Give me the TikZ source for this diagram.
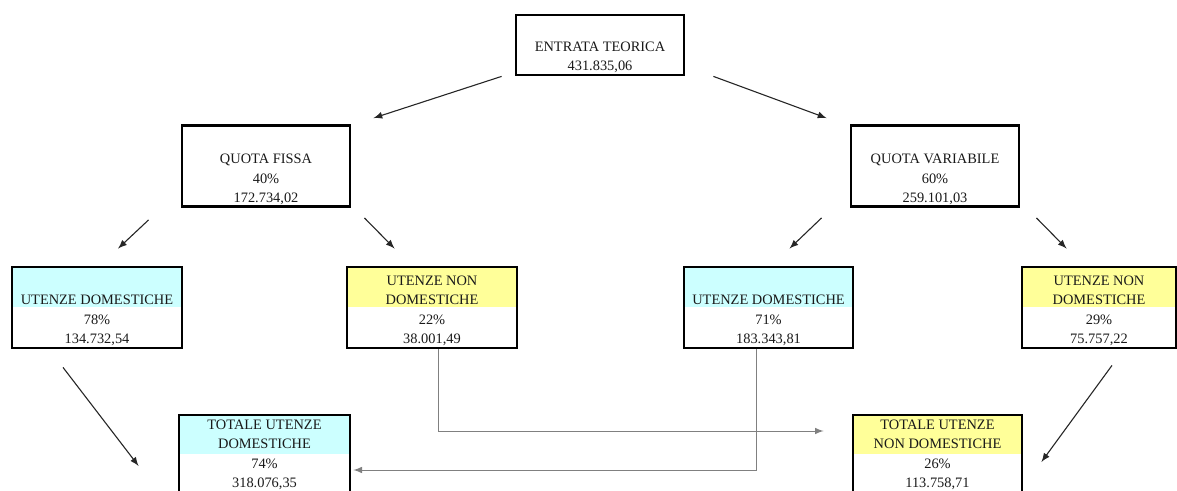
\documentclass[tikz,border=0pt]{standalone}
\usepackage{fontspec}
\setmainfont{Liberation Serif}
\usepackage{tikz}
\usetikzlibrary{positioning}
\definecolor{domcol}{RGB}{204,255,255}
\definecolor{ndomcol}{RGB}{255,255,153}
\tikzset{
    box/.style={
        draw, line width = 1.4pt,
        minimum width = 84pt,
        minimum height = 40.5pt,
        inner sep = 0pt
    },
    txt/.style={
        inner sep = 0pt,
        align = center,
        text = black!90,
        font = \fontsize{7.2}{9.7}\selectfont
    },
    band/.style = {path picture = {\fill[#1] (path picture bounding box.north west) rectangle (path picture bounding box.east);}},
    line/.style = {-latex, line width = 0.55pt, black!85},
    link/.style = {-latex, line width = 0.5pt, black!50}
}
\begin{document}
\begin{tikzpicture}[x = 0.5pt, y = -0.5pt]
    \useasboundingbox (0,0) rectangle (1177,491);

    % boxes
    \node[box, minimum height = 30pt] (et) at (600,45) {};
    \node[box] (qf) at (266,166) {};
    \node[box] (qv) at (935,166) {};

    \node[box, band = domcol, minimum width = 85pt] (ud1) at (97,307.5) {};
    \node[box, band = ndomcol, minimum width = 85pt] (und1) at (432,307.5) {};
    \node[box, band = domcol, minimum width = 84.5pt] (ud2) at (768.5,307.5) {};
    \node[box, band = ndomcol, minimum width = 77pt] (und2) at (1099,307.5) {};

    \node[box, band = domcol, minimum width = 85.5pt, minimum height = 39pt] (tdom) at (264.5,454) {};
    \node[box, band = ndomcol, minimum width = 84.5pt, minimum height = 39pt] (tnd) at (937.5,454) {};

    % texts, set on the bottom of each box
    \node[txt, above = 1.6pt of et.south] (et-t) {ENTRATA TEORICA\\431.835,06};
    \node[txt, above = 1.4pt of qf.south] (qf-t) {QUOTA FISSA\\40\%\\172.734,02};
    \node[txt, above = 1.4pt of qv.south] (qv-t) {QUOTA VARIABILE\\60\%\\259.101,03};
    \node[txt, above = 1.6pt of ud1.south] (ud1-t) {UTENZE DOMESTICHE\\78\%\\134.732,54};
    \node[txt, above = 1.6pt of und1.south] (und1-t) {UTENZE NON\\DOMESTICHE\\22\%\\38.001,49};
    \node[txt, above = 1.6pt of ud2.south] (ud2-t) {UTENZE DOMESTICHE\\71\%\\183.343,81};
    \node[txt, above = 1.6pt of und2.south] (und2-t) {UTENZE NON\\DOMESTICHE\\29\%\\75.757,22};
    \node[txt, above = 2pt of tdom.south] (tdom-t) {TOTALE UTENZE\\DOMESTICHE\\74\%\\318.076,35};
    \node[txt, above = 2pt of tnd.south] (tnd-t) {TOTALE UTENZE\\NON DOMESTICHE\\26\%\\113.758,71};

    % split of the total
    \draw[line] ([shift={(-13,0)}]et.south west) -- ([shift={(22,-6)}]qf.north east);
    \draw[line] ([shift={(28,0)}]et.south east) -- ([shift={(-23,-6)}]qv.north west);

    \draw[line] ([shift={(-32,12)}]qf.south west) -- ([shift={(21,-17)}]ud1.north);
    \draw[line] ([shift={(13,10)}]qf.south east) -- ([shift={(49,-17)}]und1.north west);
    \draw[line] ([shift={(-28,10)}]qv.south west) -- ([shift={(21,-17)}]ud2.north);
    \draw[line] ([shift={(16,10)}]qv.south east) -- ([shift={(46,-17)}]und2.north west);

    \draw[line] ([shift={(-34,18)}]ud1.south) -- ([shift={(-39,12)}]tdom.west);
    \draw[line] ([shift={(13,16)}]und2.south) -- ([shift={(18,8)}]tnd.east);

    % cross links
    \draw[link] ([shift={(6,0)}]und1.south) |- ([shift={(-28,-23)}]tnd.west);
    \draw[link] ([shift={(-12,0)}]ud2.south) |- ([shift={(2,16)}]tdom.east);

\end{tikzpicture}
\end{document}
